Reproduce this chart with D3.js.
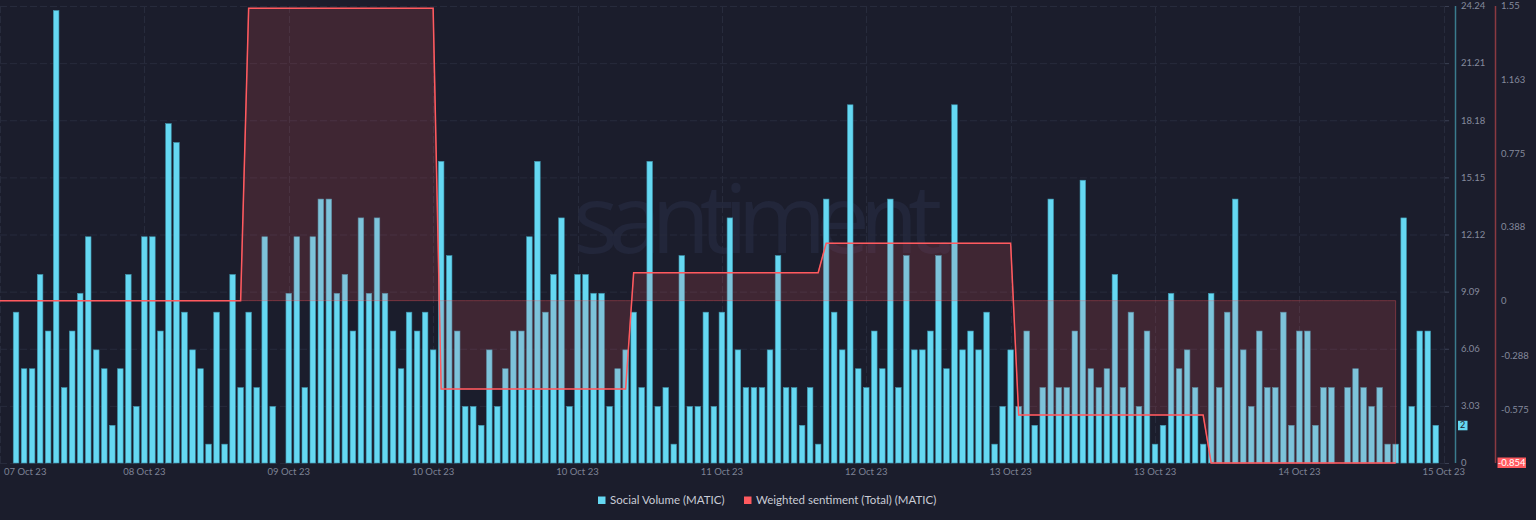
<!DOCTYPE html>
<html>
<head>
<meta charset="utf-8">
<script src="https://cdn.jsdelivr.net/npm/d3@7"></script>
<style>
  html, body { margin: 0; padding: 0; background: #1b1d2c; }
  svg { display: block; }
</style>
</head>
<body>
<div id="chart"></div>
<script>
// ---------------- DATA ----------------
// hourly series, index 0 = 07 Oct 2023 20:00 UTC
const startTime = Date.UTC(2023, 9, 7, 20);

// Social Volume (MATIC), hourly
const socialVolume = [
  0, 0,
  8, 5, 5, 10, 7, 24, 4, 7, 9, 12,
  6, 5, 2, 5, 10, 3, 12, 12, 7, 18,
  17, 8, 6, 5, 1, 8, 1, 10, 4, 8,
  4, 12, 3, 0, 9, 12, 4, 12, 14, 14,
  9, 10, 7, 13, 9, 13, 9, 7, 5, 8,
  7, 8, 6, 16, 11, 7, 3, 3, 2, 6,
  3, 5, 7, 7, 12, 16, 8, 10, 13, 3,
  10, 10, 9, 9, 3, 5, 6, 8, 4, 16,
  3, 4, 1, 11, 3, 3, 8, 3, 8, 13,
  6, 4, 4, 4, 6, 11, 4, 4, 2, 4,
  1, 14, 8, 6, 19, 5, 4, 7, 5, 14,
  4, 11, 6, 6, 7, 11, 5, 19, 6, 7,
  6, 8, 1, 3, 6, 3, 7, 2, 4, 14,
  4, 4, 7, 15, 5, 4, 5, 10, 4, 8,
  3, 7, 1, 2, 9, 5, 6, 4, 1, 9,
  4, 8, 14, 6, 3, 7, 4, 4, 8, 2,
  7, 7, 2, 4, 4, 0, 4, 5, 4, 3,
  4, 1, 1, 13, 3, 7, 7, 2
];

// Weighted sentiment (Total) (MATIC), hourly
const weightedSentiment = [
  0, 0, 0, 0, 0, 0, 0,
  0, 0, 0, 0, 0, 0, 0, 0, 0, 0, 0, 0, 0, 0, 0, 0, 0, 0, 0, 0, 0, 0, 0, 0,
  1.538, 1.538, 1.538, 1.538, 1.538, 1.538, 1.538, 1.538, 1.538, 1.538, 1.538, 1.538,
  1.538, 1.538, 1.538, 1.538, 1.538, 1.538, 1.538, 1.538, 1.538, 1.538, 1.538, 1.538,
  -0.465, -0.465, -0.465, -0.465, -0.465, -0.465, -0.465, -0.465, -0.465, -0.465, -0.465, -0.465,
  -0.465, -0.465, -0.465, -0.465, -0.465, -0.465, -0.465, -0.465, -0.465, -0.465, -0.465, -0.465,
  0.147, 0.147, 0.147, 0.147, 0.147, 0.147, 0.147, 0.147, 0.147, 0.147, 0.147, 0.147,
  0.147, 0.147, 0.147, 0.147, 0.147, 0.147, 0.147, 0.147, 0.147, 0.147, 0.147, 0.147,
  0.302, 0.302, 0.302, 0.302, 0.302, 0.302, 0.302, 0.302, 0.302, 0.302, 0.302, 0.302,
  0.302, 0.302, 0.302, 0.302, 0.302, 0.302, 0.302, 0.302, 0.302, 0.302, 0.302, 0.302,
  -0.602, -0.602, -0.602, -0.602, -0.602, -0.602, -0.602, -0.602, -0.602, -0.602, -0.602, -0.602,
  -0.602, -0.602, -0.602, -0.602, -0.602, -0.602, -0.602, -0.602, -0.602, -0.602, -0.602, -0.602,
  -0.854, -0.854, -0.854, -0.854, -0.854, -0.854, -0.854, -0.854, -0.854, -0.854, -0.854, -0.854,
  -0.854, -0.854, -0.854, -0.854, -0.854, -0.854, -0.854, -0.854, -0.854, -0.854, -0.854, -0.854
];

// axis ticks
const xTickHours = [0, 18, 36, 54, 72, 90, 108, 126, 144, 162, 180];
const volumeTicks = [0, 3.03, 6.06, 9.09, 12.12, 15.15, 18.18, 21.21, 24.24];
const sentimentTicks = [1.55, 1.163, 0.775, 0.388, 0, -0.288, -0.575];
const volumeDomain = [0, 24.24];
const sentimentDomain = [-0.854, 1.55];
const lastVolumeLabel = "2";
const minSentimentLabel = "-0.854";
const seriesNames = ["Social Volume (MATIC)", "Weighted sentiment (Total) (MATIC)"];

// ---------------- CHART ----------------
const W = 1536, H = 520;
const HOUR = 3600e3;
const plotLeft = 0, plotRight = 1453.4, plotTop = 6, plotBottom = 463;
const volColor = "#65d8f2", sentColor = "#ff5a5f";
const bg = "#1b1d2c";

const svg = d3.select("#chart").append("svg")
  .attr("width", W).attr("height", H)
  .style("background", bg)
  .style("font-family", "Lato, 'Open Sans', sans-serif");

const x = d3.scaleUtc()
  .domain([new Date(startTime), new Date(startTime + 181.2 * HOUR)])
  .range([plotLeft, plotRight]);
const yV = d3.scaleLinear().domain(volumeDomain).range([plotBottom, plotTop]);
const yS = d3.scaleLinear().domain(sentimentDomain).range([plotBottom, plotTop]);

const volData = socialVolume.map((v, i) => ({ t: new Date(startTime + i * HOUR), v }));
const sentData = weightedSentiment.map((v, i) => ({ t: new Date(startTime + i * HOUR), v }));
const xTicks = xTickHours.map(h => new Date(startTime + h * HOUR));

// watermark
svg.append("text")
  .attr("x", 573).attr("y", 253)
  .attr("font-family", "'Open Sans', sans-serif")
  .attr("font-size", 96)
  .attr("textLength", 384)
  .attr("fill", "#22263a")
  .text("santiment.");

// gridlines
const grid = svg.append("g");
grid.selectAll("line.h").data(volumeTicks).join("line")
  .attr("x1", plotLeft).attr("x2", 1450)
  .attr("y1", d => yV(d) + 0.5).attr("y2", d => yV(d) + 0.5)
  .attr("stroke", "#272b3c").attr("stroke-width", 1)
  .attr("stroke-dasharray", "7,3");
grid.selectAll("line.v").data(xTicks).join("line")
  .attr("x1", d => Math.round(x(d)) + 0.5).attr("x2", d => Math.round(x(d)) + 0.5)
  .attr("y1", plotTop).attr("y2", plotBottom)
  .attr("stroke", "#272b3c").attr("stroke-width", 1)
  .attr("stroke-dasharray", "7,3");

// bars
const barW = 5.6;
svg.append("g").selectAll("rect").data(volData.filter(d => d.v > 0)).join("rect")
  .attr("x", d => x(d.t) - barW / 2)
  .attr("y", d => yV(d.v))
  .attr("width", barW)
  .attr("height", d => yV(0) - yV(d.v))
  .attr("fill", volColor)
  .attr("stroke", "#3f93ab")
  .attr("stroke-width", 0.6);

// sentiment area + line
const area = d3.area().x(d => x(d.t)).y0(yS(0)).y1(d => yS(d.v));
const line = d3.line().x(d => x(d.t)).y(d => yS(d.v));
svg.append("path").datum(sentData)
  .attr("d", area)
  .attr("fill", sentColor).attr("fill-opacity", 0.16)
  .attr("stroke", sentColor).attr("stroke-opacity", 0.35).attr("stroke-width", 1);
svg.append("path").datum(sentData)
  .attr("d", line)
  .attr("fill", "none")
  .attr("stroke", sentColor).attr("stroke-width", 1.5);

// x axis labels
const fmt = d3.utcFormat("%d %b %y");
svg.append("g").selectAll("text").data(xTicks).join("text")
  .attr("x", (d, i) => i === 0 ? 4 : x(d))
  .attr("y", 471.5)
  .attr("dy", "0.35em")
  .attr("text-anchor", (d, i) => i === 0 ? "start" : "middle")
  .attr("font-size", 9.5)
  .attr("fill", "#7d8295")
  .text(d => fmt(d));

// volume axis (right side, first)
const axV = svg.append("g");
axV.append("line")
  .attr("x1", 1455.5).attr("x2", 1455.5).attr("y1", plotTop).attr("y2", plotBottom)
  .attr("stroke", "#3a7b8d").attr("stroke-width", 1.5);
axV.selectAll("line.t").data(volumeTicks).join("line")
  .attr("x1", 1445).attr("x2", 1449)
  .attr("y1", d => yV(d) + 0.5).attr("y2", d => yV(d) + 0.5)
  .attr("stroke", "#3a3f52");
axV.selectAll("text").data(volumeTicks).join("text")
  .attr("x", 1461).attr("y", d => yV(d))
  .attr("dy", "0.35em")
  .attr("font-size", 9.5).attr("fill", "#858a9c")
  .text(d => d === 0 ? "0" : d3.format(".2f")(d));
// last value badge
const lastVol = volData[volData.length - 1];
axV.append("rect")
  .attr("x", 1458).attr("y", yV(lastVol.v) - 4.5).attr("width", 9.5).attr("height", 9.5)
  .attr("fill", volColor);
axV.append("text")
  .attr("x", 1462.7).attr("y", yV(lastVol.v)).attr("dy", "0.35em")
  .attr("text-anchor", "middle").attr("font-size", 9).attr("fill", "#1b1d2c")
  .text(lastVolumeLabel);

// sentiment axis
const axS = svg.append("g");
axS.append("line")
  .attr("x1", 1495.5).attr("x2", 1495.5).attr("y1", plotTop).attr("y2", plotBottom)
  .attr("stroke", "#8a3a41").attr("stroke-width", 1.5);
axS.selectAll("text").data(sentimentTicks).join("text")
  .attr("x", 1501).attr("y", d => yS(d))
  .attr("dy", "0.35em")
  .attr("font-size", 9.5).attr("fill", "#858a9c")
  .text(d => String(d));
axS.append("rect")
  .attr("x", 1497.5).attr("y", yS(-0.854) - 5.5).attr("width", 28.5).attr("height", 10.5)
  .attr("fill", sentColor);
axS.append("text")
  .attr("x", 1511.7).attr("y", yS(-0.854)).attr("dy", "0.35em")
  .attr("text-anchor", "middle").attr("font-size", 9.5).attr("fill", "#ffffff")
  .text(minSentimentLabel);

// legend
const legend = svg.append("g").attr("transform", "translate(0,500)");
const legItems = [
  { name: seriesNames[0], color: volColor, x: 598 },
  { name: seriesNames[1], color: sentColor, x: 744 }
];
legItems.forEach(it => {
  legend.append("rect").attr("x", it.x).attr("y", -3.5).attr("width", 7.5).attr("height", 7.5)
    .attr("fill", it.color);
  legend.append("text").attr("x", it.x + 12).attr("y", 0).attr("dy", "0.35em")
    .attr("font-size", 11.5).attr("fill", "#c9ccd6")
    .text(it.name);
});
</script>
</body>
</html>
